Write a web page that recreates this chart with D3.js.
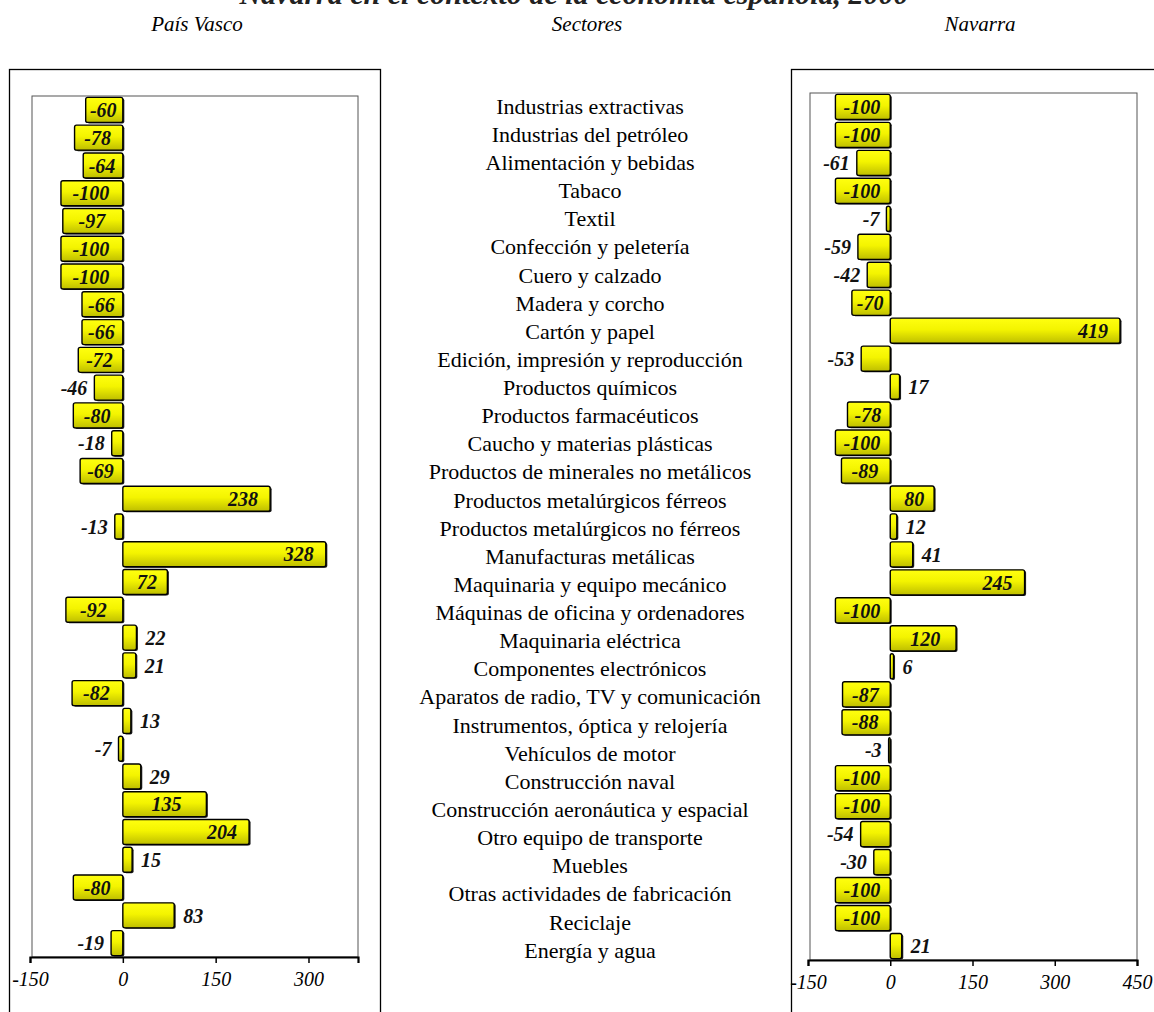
<!DOCTYPE html>
<html>
<head>
<meta charset="utf-8">
<script src="https://cdn.jsdelivr.net/npm/d3@7"></script>
<style>
  html, body { margin: 0; padding: 0; background: #fff; }
  svg { display: block; }
  text { font-family: "Liberation Serif", "Times New Roman", serif; }
</style>
</head>
<body>
<svg id="chart" width="1154" height="1012"></svg>
<script>
// Sectores industriales
const sectors = [
  "Industrias extractivas",
  "Industrias del petróleo",
  "Alimentación y bebidas",
  "Tabaco",
  "Textil",
  "Confección y peletería",
  "Cuero y calzado",
  "Madera y corcho",
  "Cartón y papel",
  "Edición, impresión y reproducción",
  "Productos químicos",
  "Productos farmacéuticos",
  "Caucho y materias plásticas",
  "Productos de minerales no metálicos",
  "Productos metalúrgicos férreos",
  "Productos metalúrgicos no férreos",
  "Manufacturas metálicas",
  "Maquinaria y equipo mecánico",
  "Máquinas de oficina y ordenadores",
  "Maquinaria eléctrica",
  "Componentes electrónicos",
  "Aparatos de radio, TV y comunicación",
  "Instrumentos, óptica y relojería",
  "Vehículos de motor",
  "Construcción naval",
  "Construcción aeronáutica y espacial",
  "Otro equipo de transporte",
  "Muebles",
  "Otras actividades de fabricación",
  "Reciclaje",
  "Energía y agua"
];

const paisVasco = [-60, -78, -64, -100, -97, -100, -100, -66, -66, -72, -46, -80, -18, -69,
  238, -13, 328, 72, -92, 22, 21, -82, 13, -7, 29, 135, 204, 15, -80, 83, -19];

const navarra = [-100, -100, -61, -100, -7, -59, -42, -70, 419, -53, 17, -78, -100, -89,
  80, 12, 41, 245, -100, 120, 6, -87, -88, -3, -100, -100, -54, -30, -100, -100, 21];

// Sectores cuya etiqueta va fuera de la barra
const paisVascoLabelOutside = ["Productos químicos", "Caucho y materias plásticas",
  "Productos metalúrgicos no férreos", "Maquinaria eléctrica", "Componentes electrónicos",
  "Instrumentos, óptica y relojería", "Vehículos de motor", "Construcción naval",
  "Muebles", "Reciclaje", "Energía y agua"];
const navarraLabelOutside = ["Alimentación y bebidas", "Textil", "Confección y peletería",
  "Cuero y calzado", "Edición, impresión y reproducción", "Productos químicos",
  "Productos metalúrgicos no férreos", "Manufacturas metálicas", "Componentes electrónicos",
  "Vehículos de motor", "Otro equipo de transporte", "Muebles", "Energía y agua"];

const paisVascoTicks = [-150, 0, 150, 300];
const navarraTicks = [-150, 0, 150, 300, 450];

const titleText = "Navarra en el contexto de la economía española, 2000";
const headers = ["País Vasco", "Sectores", "Navarra"];

const svg = d3.select("#chart");

// Degradado amarillo de las barras
const defs = svg.append("defs");
const grad = defs.append("linearGradient")
  .attr("id", "barGrad").attr("x1", 0).attr("y1", 0).attr("x2", 0).attr("y2", 1);
grad.append("stop").attr("offset", "0%").attr("stop-color", "#ffff10");
grad.append("stop").attr("offset", "45%").attr("stop-color", "#f4f400");
grad.append("stop").attr("offset", "100%").attr("stop-color", "#bebe00");

// Título (parcialmente fuera del lienzo)
svg.append("text")
  .attr("x", 574).attr("y", 4)
  .attr("text-anchor", "middle")
  .style("font-size", "30px").style("font-weight", "bold").style("font-style", "italic")
  .attr("fill", "#222")
  .text(titleText);

// Cabeceras de columna
const headerX = [197, 587, 980];
svg.selectAll("text.header").data(headers).join("text")
  .attr("class", "header")
  .attr("x", (d, i) => headerX[i]).attr("y", 31)
  .attr("text-anchor", "middle")
  .style("font-size", "21px").style("font-style", "italic")
  .text(d => d);

// Marcos exteriores de los paneles
svg.append("rect").attr("x", 9.5).attr("y", 69.5).attr("width", 371).attr("height", 960)
  .attr("fill", "none").attr("stroke", "#000").attr("stroke-width", 1.3);
svg.append("rect").attr("x", 791.5).attr("y", 69.5).attr("width", 400).attr("height", 960)
  .attr("fill", "none").attr("stroke", "#000").attr("stroke-width", 1.3);

// Etiquetas de sectores en el centro
const yCenter = d3.scaleBand().domain(sectors).range([92, 964]);
svg.selectAll("text.sector").data(sectors).join("text")
  .attr("class", "sector")
  .attr("x", 590)
  .attr("y", d => yCenter(d) + yCenter.bandwidth() / 2)
  .attr("dy", "0.35em")
  .attr("text-anchor", "middle")
  .style("font-size", "22px")
  .text(d => d);

function drawPanel(opts) {
  const { values, domain, xRange, yRange, ticks, outside } = opts;
  const x = d3.scaleLinear().domain(domain).range(xRange);
  const y = d3.scaleBand().domain(sectors).range(yRange).paddingInner(0.1).paddingOuter(0.05);
  const g = svg.append("g");

  // Área de trazado
  g.append("rect")
    .attr("x", xRange[0] + 2).attr("y", yRange[0])
    .attr("width", xRange[1] - xRange[0] - 2).attr("height", yRange[1] - yRange[0])
    .attr("fill", "#fff").attr("stroke", "#555").attr("stroke-width", 1);

  const rows = sectors.map((s, i) => ({ s, v: values[i] }));
  const x0 = x(0);

  const bars = g.selectAll("g.bar").data(rows).join("g").attr("class", "bar");
  // Sombra
  bars.append("rect")
    .attr("x", d => Math.min(x(d.v), x0) + 1.5)
    .attr("y", d => y(d.s) + 1)
    .attr("width", d => Math.abs(x(d.v) - x0))
    .attr("height", y.bandwidth())
    .attr("rx", 2)
    .attr("fill", "#222");
  bars.append("rect")
    .attr("x", d => Math.min(x(d.v), x0))
    .attr("y", d => y(d.s))
    .attr("width", d => Math.abs(x(d.v) - x0))
    .attr("height", y.bandwidth())
    .attr("rx", 2)
    .attr("fill", "url(#barGrad)")
    .attr("stroke", "#000").attr("stroke-width", 1.4);

  // Etiquetas de valor
  g.selectAll("text.val").data(rows).join("text")
    .attr("class", "val")
    .attr("y", d => y(d.s) + y.bandwidth() / 2)
    .attr("dy", "0.36em")
    .style("font-size", "20px").style("font-weight", "bold").style("font-style", "italic")
    .attr("fill", "#111")
    .each(function (d) {
      const t = d3.select(this);
      const end = x(d.v);
      const w = Math.abs(end - x0);
      if (outside.includes(d.s)) {
        if (d.v >= 0) t.attr("x", end + 9).attr("text-anchor", "start");
        else t.attr("x", end - 7).attr("text-anchor", "end");
      } else if (w > 95) {
        if (d.v >= 0) t.attr("x", end - 12).attr("text-anchor", "end");
        else t.attr("x", end + 12).attr("text-anchor", "start");
      } else {
        t.attr("x", (end + x0) / 2 + (d.v >= 0 ? 2 : -1)).attr("text-anchor", "middle");
      }
    })
    .text(d => d.v);

  // Eje horizontal
  const axis = g.append("g")
    .attr("transform", `translate(0,${yRange[1]})`)
    .call(d3.axisBottom(x).tickValues(ticks).tickSize(6).tickPadding(9).tickFormat(d3.format("d")));
  axis.select(".domain").attr("stroke", "#000").attr("stroke-width", 2.2);
  axis.selectAll(".tick line").attr("stroke", "#000").attr("stroke-width", 1.5);
  axis.selectAll(".tick text")
    .style("font-size", "20px").style("font-style", "italic")
    .style("font-family", "'Liberation Serif', 'Times New Roman', serif")
    .attr("fill", "#000")
    .text(d => d < 0 ? "-" + Math.abs(d) : d);
}

drawPanel({
  values: paisVasco,
  domain: [-150, 380],
  xRange: [30, 358],
  yRange: [96, 957],
  ticks: paisVascoTicks,
  outside: paisVascoLabelOutside
});

drawPanel({
  values: navarra,
  domain: [-150, 450],
  xRange: [808, 1137],
  yRange: [93, 960],
  ticks: navarraTicks,
  outside: navarraLabelOutside
});
</script>
</body>
</html>
